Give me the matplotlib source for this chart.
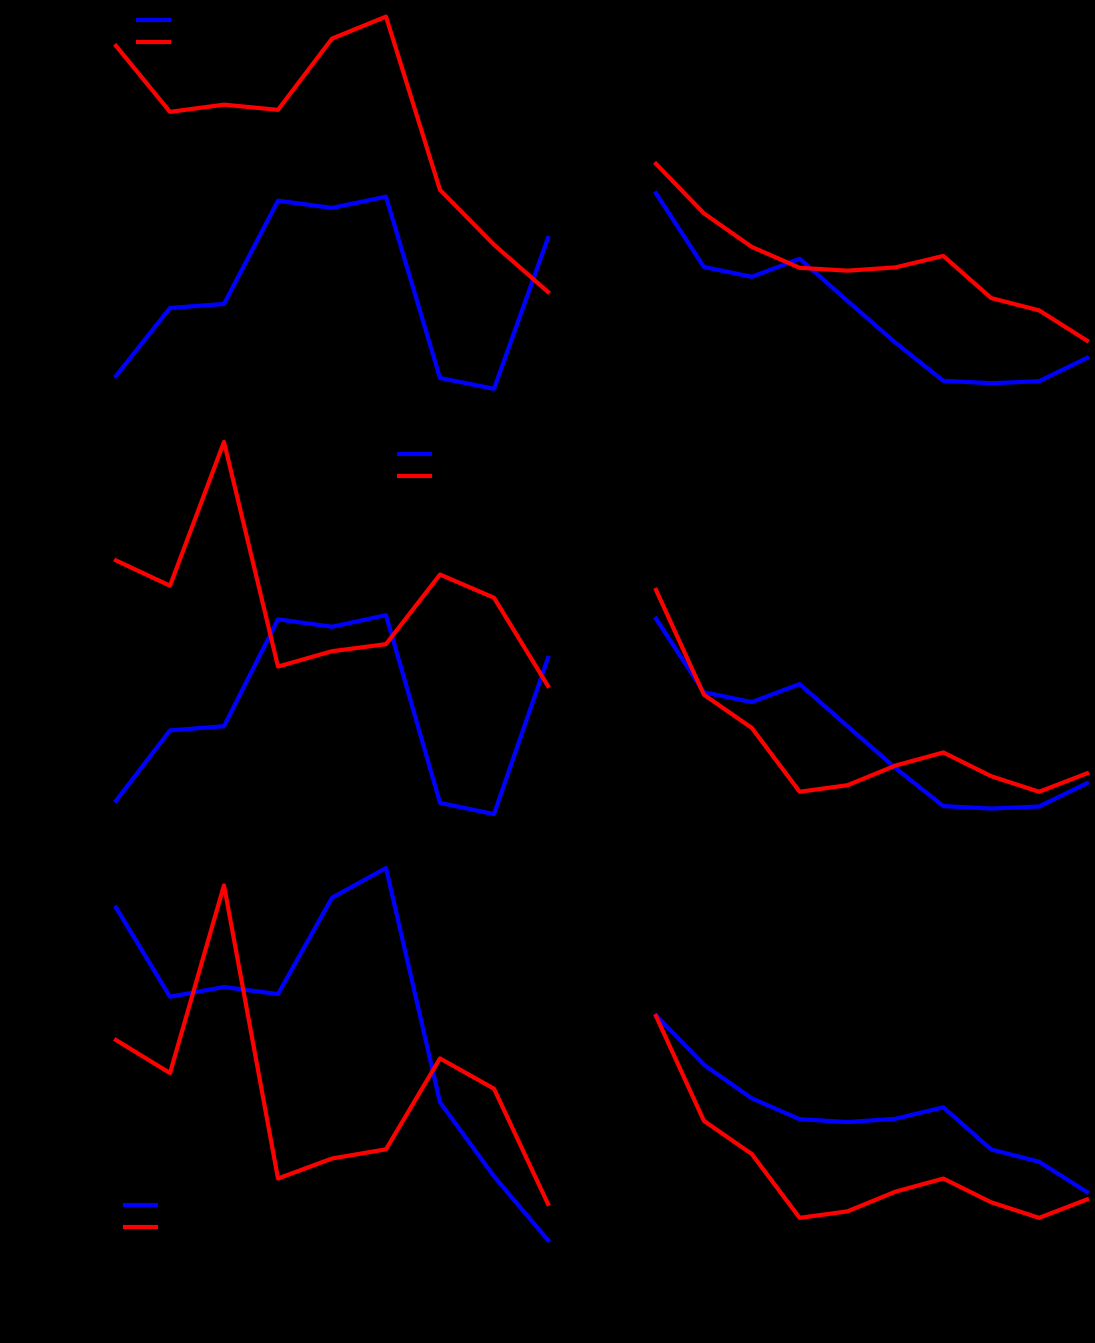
import matplotlib
matplotlib.use("Agg")
import matplotlib.pyplot as plt

# left column (9 steps) and right column (10 steps)
steps_left = list(range(1, 10))
steps_right = list(range(1, 11))

a_left = [11.0, 28.0, 29.0, 54.8, 53.0, 55.8, 10.5, 7.8, 45.5]
b_left = [93.5, 77.0, 78.8, 77.5, 95.3, 100.8, 57.5, 43.8, 32.0]
c_left = [69.0, 62.9, 97.6, 43.4, 47.1, 48.8, 65.6, 60.0, 38.7]

a_right = [52.3, 34.3, 31.9, 36.3, 26.0, 15.8, 6.5, 5.9, 6.4, 12.1]
b_right = [59.5, 47.4, 39.2, 34.1, 33.4, 34.2, 37.0, 26.7, 23.7, 16.3]
c_right = [59.3, 33.7, 25.6, 10.0, 11.6, 16.4, 19.6, 13.8, 10.0, 14.5]

names = ["A", "B", "C"]
pairs = [(0, 1), (0, 2), (1, 2)]
left_series = [a_left, b_left, c_left]
right_series = [a_right, b_right, c_right]

W, H = 1095, 1343
fig = plt.figure(figsize=(W / 100, H / 100), dpi=100)
fig.patch.set_facecolor("black")

row_bottoms = [407.4, 832.7, 1258.8]   # pixel from top
ax_h = 409.4
legend_pos = [(132, 8), (393, 442), (119, 1193)]

for r, (i, j) in enumerate(pairs):
    bottom = (H - row_bottoms[r]) / H

    # left column
    ax = fig.add_axes([116 / W, bottom, 432 / W, ax_h / H])
    ax.set_facecolor("none")
    ax.plot(steps_left, left_series[i], color="blue", lw=3, label=names[i],
            clip_on=False, zorder=5)
    ax.plot(steps_left, left_series[j], color="red", lw=3, label=names[j],
            clip_on=False, zorder=5)
    ax.set_xlim(steps_left[0], steps_left[-1])
    lx, ly = legend_pos[r]
    ax.legend(loc="upper left", bbox_to_anchor=(lx / W, 1 - ly / H),
              bbox_transform=fig.transFigure, borderaxespad=0, frameon=False,
              handlelength=2.25, labelspacing=0.6)

    # right column
    ax2 = fig.add_axes([656 / W, bottom, 431 / W, ax_h / H])
    ax2.set_facecolor("none")
    ax2.plot(steps_right, right_series[i], color="blue", lw=3, label=names[i],
             clip_on=False, zorder=5)
    ax2.plot(steps_right, right_series[j], color="red", lw=3, label=names[j],
             clip_on=False, zorder=5)
    ax2.set_xlim(steps_right[0], steps_right[-1])
    ax2.set_ylim(0, 100)
    ax2.set_yticks(range(0, 100, 20))

fig.savefig("out.png", dpi=100, facecolor="black")
